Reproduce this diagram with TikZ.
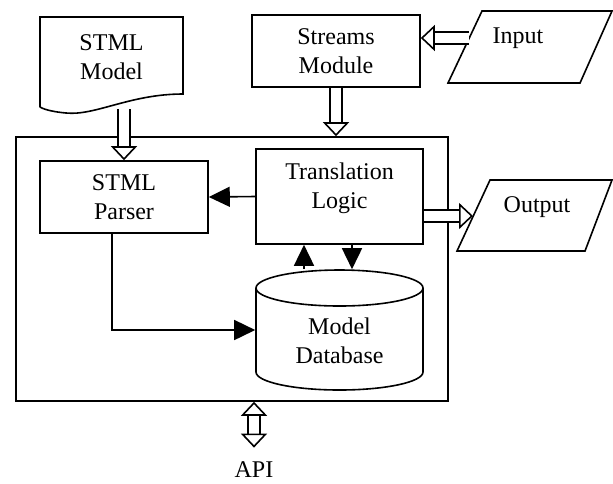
\documentclass[tikz,border=0pt]{standalone}
\usepackage{fontspec}
\setmainfont{Liberation Serif}
\usetikzlibrary{arrows.meta,calc}

% block arrow: double shaft, open head
\newcommand{\hollowarrow}[2]{%
  \draw[shaft, shorten >=6.5pt] (#1) -- (#2);
  \draw[hollowtip] ($(#2)!7pt!(#1)$) -- (#2);}
\newcommand{\hollowboth}[2]{%
  \draw[shaft, shorten >=6pt, shorten <=6pt] (#1) -- (#2);
  \draw[hollowtip] ($(#2)!6.5pt!(#1)$) -- (#2);
  \draw[hollowtip] ($(#1)!6.5pt!(#2)$) -- (#1);}

\begin{document}
\begin{tikzpicture}[x=0.5pt, y=-0.5pt, line width=0.8pt,
  every node/.style={font=\fontsize{12}{14.5}\selectfont, align=center},
  box/.style={rectangle, draw, minimum width=84pt, minimum height=36pt},
  shaft/.style={double, double distance=5pt},
  hollowtip/.style={-{Triangle[open, fill=white, length=7pt, width=13pt]}},
  flow/.style={-{Triangle[length=10.5pt, width=10pt]}}]
  \useasboundingbox (0,0) rectangle (613,483);

  \node[box, minimum width=216pt, minimum height=132pt] (sys) at (232,269) {};
  \node[box] (streams) at (336,51) {Streams\\Module};
  \node[box] (parser) at (124,197) {STML\\Parser};
  \node[box, minimum width=83.5pt, minimum height=47.5pt] (trans) at (339.5,196.5) {};
  \node (translabel) at (339.5,188) {Translation\\Logic};
  \node[minimum width=83.5pt, minimum height=60pt] (db) at (339.5,330) {};
  \node (dblabel) at (339.5,341) {Model\\Database};
  \node (model) at (111.5,57) {STML\\Model};
  \node (input) at (518,38) {Input};
  \node (output) at (537,207) {Output};
  \node (api) at (254,470) {API};

  % outlines
  \draw (40,107) -- (40,17) -- (183,17) -- (183,94) .. controls (130,94) and (95,116) .. (66,113) .. controls (55,112) and (45,110) .. (40,107);
  \draw (482,11) -- (612,11) -- (580,83) -- (448,83) -- cycle;
  \draw (490,180) -- (612,180) -- (585,251) -- (457,251) -- cycle;
  \draw (256,288) -- (256,372) arc[start angle=180, end angle=360, x radius=41.75pt, y radius=9pt] -- (423,288);
  \draw (339.5,288) ellipse [x radius=41.75pt, y radius=9pt];

  \coordinate (modelfoot) at (124,109);
  \coordinate (inedge) at (469,38);
  \coordinate (outedge) at (473,216);
  \coordinate (apifoot) at ([yshift=3.5pt]api.north);

  \hollowarrow{modelfoot}{parser.north}
  \hollowarrow{streams.south}{streams.south |- sys.north}
  \hollowarrow{inedge}{streams.east |- inedge}
  \hollowarrow{trans.east |- outedge}{outedge}
  \hollowboth{api |- sys.south}{apifoot}

  \draw[flow] (trans.west) -- (parser.east);
  \draw[flow] ([xshift=-6pt]parser.south) |- (db.west);
  \draw[flow] ([xshift=-17.75pt]db.north) -- ([xshift=-17.75pt]trans.south);
  \draw[flow] ([xshift=6.25pt]trans.south) -- ([xshift=6.25pt]db.north);
\end{tikzpicture}
\end{document}
